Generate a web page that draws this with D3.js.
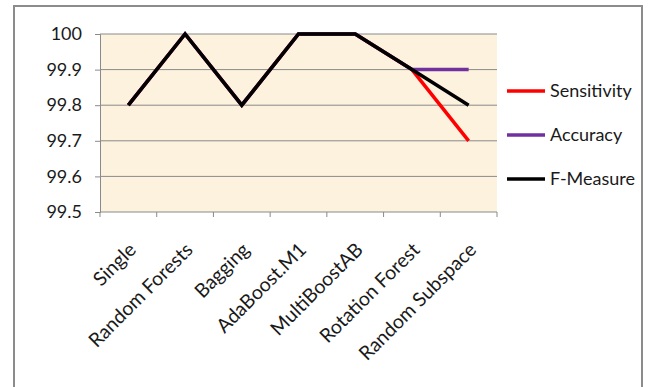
<!DOCTYPE html>
<html>
<head>
<meta charset="utf-8">
<script src="https://cdn.jsdelivr.net/npm/d3@7"></script>
<style>
  html, body { margin: 0; padding: 0; background: #ffffff; }
  svg { display: block; }
  text { font-family: Lato, "Open Sans", sans-serif; fill: #1a1a1a; }
</style>
</head>
<body>
<svg id="chart" width="648" height="387"></svg>
<script>
// Ensemble methods compared on three metrics (%)
const categories = ["Single", "Random Forests", "Bagging", "AdaBoost.M1", "MultiBoostAB", "Rotation Forest", "Random Subspace"];
const sensitivity = [99.8, 100, 99.8, 100, 100, 99.9, 99.7];
const accuracy    = [99.8, 100, 99.8, 100, 100, 99.9, 99.9];
const fMeasure    = [99.8, 100, 99.8, 100, 100, 99.9, 99.8];
const yTicks = [99.5, 99.6, 99.7, 99.8, 99.9, 100];
const seriesNames = ["Sensitivity", "Accuracy", "F-Measure"];
const seriesColors = ["#ff0000", "#7030a0", "#000000"];

const series = [sensitivity, accuracy, fMeasure].map((values, i) => ({
  name: seriesNames[i], color: seriesColors[i], values
}));

const svg = d3.select("#chart");
const plot = { left: 100, right: 497, top: 34, bottom: 212 };

// chart frame
svg.append("rect")
  .attr("x", 14).attr("y", 6).attr("width", 628).attr("height", 400)
  .attr("fill", "#fff").attr("stroke", "#8c8c8c").attr("stroke-width", 2);

// plot background
svg.append("rect")
  .attr("x", plot.left).attr("y", plot.top)
  .attr("width", plot.right - plot.left).attr("height", plot.bottom - plot.top)
  .attr("fill", "#fcf2de");

const x = d3.scaleBand().domain(categories).range([plot.left, plot.right]);
const y = d3.scaleLinear().domain([99.5, 100]).range([plot.bottom, plot.top]);

// horizontal gridlines
svg.append("g").selectAll("line").data(yTicks.slice(1)).join("line")
  .attr("x1", plot.left).attr("x2", plot.right)
  .attr("y1", d => y(d)).attr("y2", d => y(d))
  .attr("stroke", "#8a8a8a").attr("stroke-width", 1);

// y axis
const yAxis = svg.append("g")
  .attr("transform", `translate(${plot.left},0)`)
  .call(d3.axisLeft(y).tickValues(yTicks).tickFormat(d3.format("")).tickSize(5).tickPadding(13));
yAxis.select(".domain").attr("stroke", "#8a8a8a");
yAxis.selectAll(".tick line").attr("stroke", "#8a8a8a");
yAxis.selectAll("text").attr("font-size", 18).attr("fill", "#1a1a1a").attr("font-family", "Lato");

// x axis: ticks sit on category boundaries
const bounds = categories.map(c => x(c)).concat([plot.right]);
const xAxis = svg.append("g");
xAxis.append("line")
  .attr("x1", plot.left).attr("x2", plot.right)
  .attr("y1", plot.bottom).attr("y2", plot.bottom)
  .attr("stroke", "#8a8a8a");
xAxis.selectAll("line.tick").data(bounds).join("line")
  .attr("class", "tick")
  .attr("x1", d => d).attr("x2", d => d)
  .attr("y1", plot.bottom).attr("y2", plot.bottom + 5)
  .attr("stroke", "#8a8a8a");
xAxis.selectAll("text").data(categories).join("text")
  .attr("transform", d => `translate(${x(d) + x.bandwidth() / 2 + 9},${plot.bottom + 39}) rotate(-45)`)
  .attr("text-anchor", "end")
  .attr("font-size", 19.5)
  .text(d => d);

// series lines
const line = d3.line()
  .x((d, i) => x(categories[i]) + x.bandwidth() / 2)
  .y(d => y(d));

svg.append("g").selectAll("path").data(series).join("path")
  .attr("d", d => line(d.values))
  .attr("fill", "none")
  .attr("stroke", d => d.color)
  .attr("stroke-width", 3.5);

// legend
const legend = svg.append("g").selectAll("g").data(series).join("g")
  .attr("transform", (d, i) => `translate(507,${91 + i * 44})`);
legend.append("line")
  .attr("x1", 0).attr("x2", 38)
  .attr("stroke", d => d.color).attr("stroke-width", 3.5);
legend.append("text")
  .attr("x", 43).attr("dy", "0.35em")
  .attr("font-size", 18)
  .text(d => d.name);
</script>
</body>
</html>
